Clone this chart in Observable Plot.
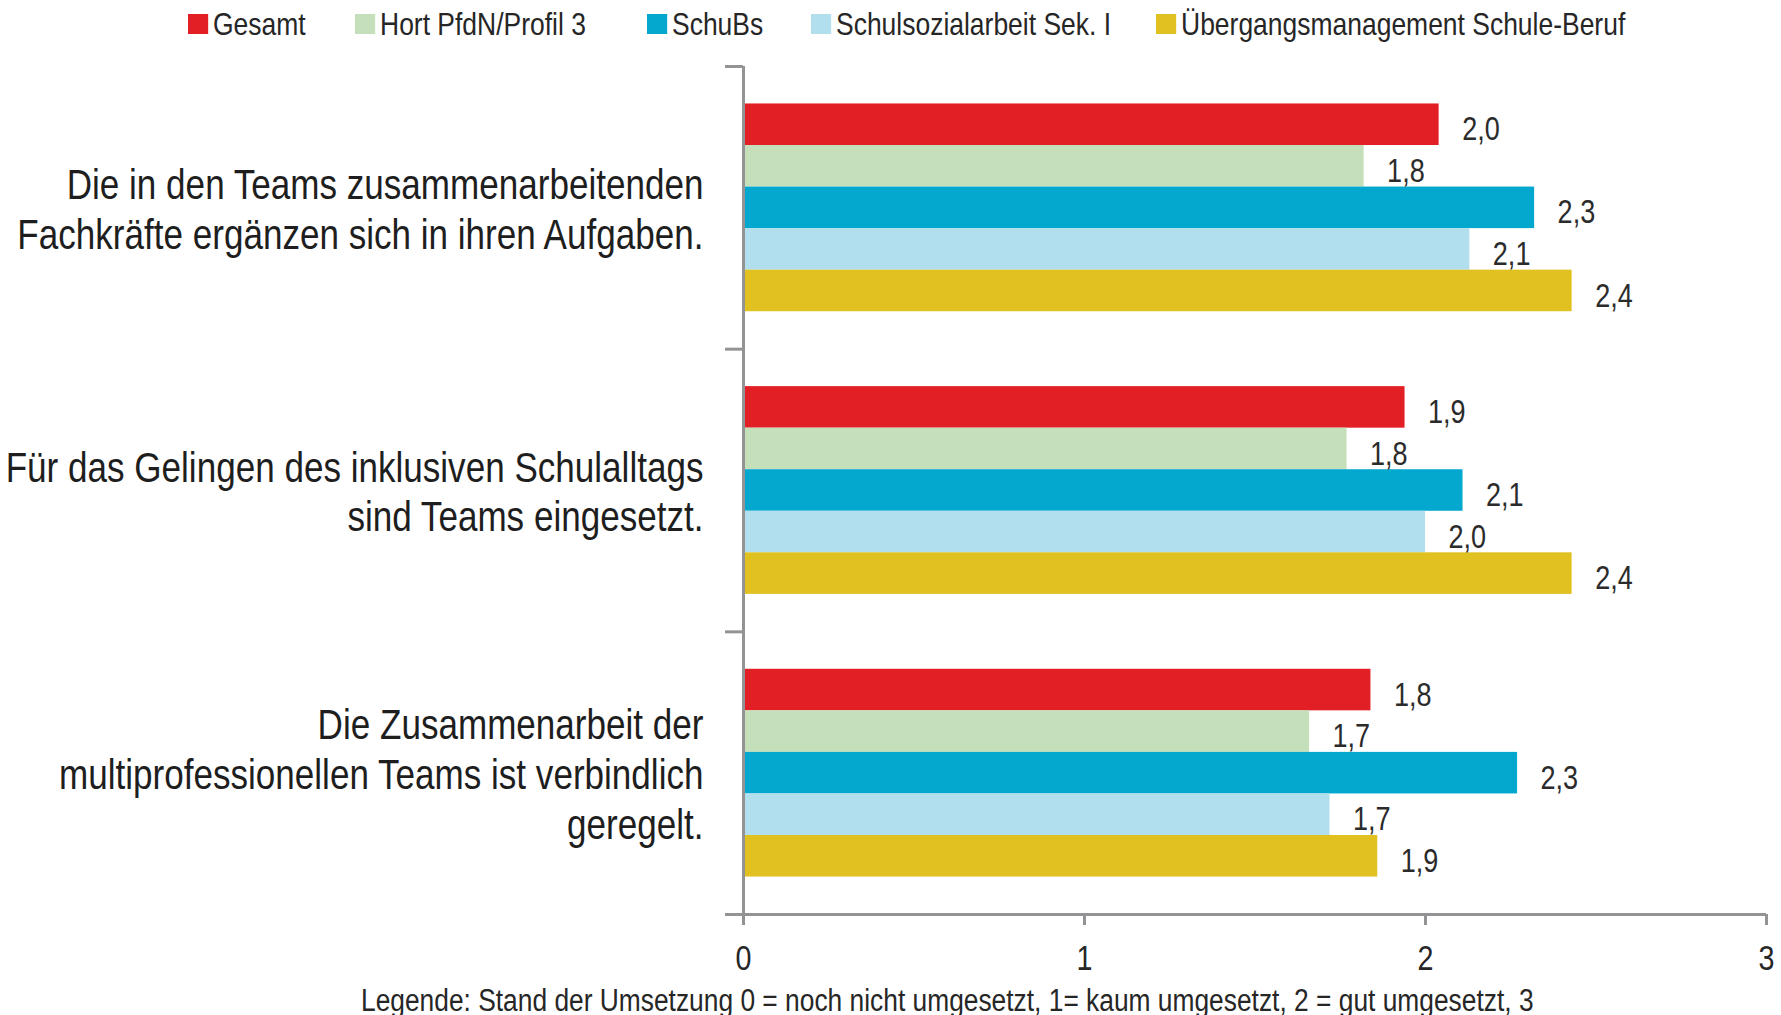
<!DOCTYPE html>
<html>
<head>
<meta charset="utf-8">
<script src="https://cdn.jsdelivr.net/npm/d3@7"></script>
<script src="https://cdn.jsdelivr.net/npm/@observablehq/plot@0.6"></script>
<style>
  html, body { margin: 0; padding: 0; background: #fff; overflow: hidden; }
  body { width: 1781px; height: 1015px; font-family: "Liberation Sans", Arial, sans-serif; position: relative; }
  #legend { height: 48px; position: relative; }
  #legend .item { position: absolute; top: 0; height: 48px; display: flex; align-items: center; font-size: 31.5px; color: #262626; transform: scaleX(0.84); transform-origin: 0 50%; white-space: nowrap; }
  #legend .sw { width: 23.8px; height: 20px; margin-right: 6px; display: inline-block; }
  #caption { height: 37px; position: relative; }
  #caption .inner { position: absolute; left: 361px; top: 4px; line-height: 37px; font-size: 31px; color: #262626; white-space: nowrap; transform: scaleX(0.85); transform-origin: 0 50%; }
  svg { display: block; }
</style>
</head>
<body>
<div id="legend"></div>
<div id="chart"></div>
<div id="caption"><div class="inner"></div></div>
<script>
// ---- Data ----
const questions = [
  "Die in den Teams zusammenarbeitenden\nFachkräfte ergänzen sich in ihren Aufgaben.",
  "Für das Gelingen des inklusiven Schulalltags\nsind Teams eingesetzt.",
  "Die Zusammenarbeit der\nmultiprofessionellen Teams ist verbindlich\ngeregelt."
];
const series = ["Gesamt", "Hort PfdN/Profil 3", "SchuBs", "Schulsozialarbeit Sek. I", "Übergangsmanagement Schule-Beruf"];
const seriesColors = ["#e31f26", "#c5dfbb", "#04a8cf", "#b2dfee", "#e0c11f"];
const gesamt    = [2.04, 1.94, 1.84];
const hort      = [1.82, 1.77, 1.66];
const schubs    = [2.32, 2.11, 2.27];
const schulsoz  = [2.13, 2.00, 1.72];
const uebergang = [2.43, 2.43, 1.86];
const xTicks = [0, 1, 2, 3];
const captionText = "Legende: Stand der Umsetzung 0 = noch nicht umgesetzt, 1= kaum umgesetzt, 2 = gut umgesetzt, 3";

// ---- Build table ----
const seriesValues = [gesamt, hort, schubs, schulsoz, uebergang];
const barH = 0.147;
const pad = (1 - series.length * barH) / 2;
const table = [];
questions.forEach((q, qi) => {
  series.forEach((s, si) => {
    const v = seriesValues[si][qi];
    const y1 = qi + pad + si * barH;
    table.push({question: q, series: s, value: v, y1, y2: y1 + barH, ym: y1 + barH / 2,
      label: v.toFixed(1).replace(".", ",")});
  });
});
const qTable = questions.map((q, qi) => ({q, y: qi + 0.5}));

// ---- Legend (layout: left edge of each legend entry, px) ----
const legendLeft = [188, 355, 647, 811, 1156];
const legend = document.getElementById("legend");
series.forEach((s, i) => {
  const item = document.createElement("div");
  item.className = "item";
  item.style.left = legendLeft[i] + "px";
  const sw = document.createElement("span");
  sw.className = "sw";
  sw.style.background = seriesColors[i];
  item.appendChild(sw);
  item.appendChild(document.createTextNode(s));
  legend.appendChild(item);
});
document.querySelector("#caption .inner").textContent = captionText;

// ---- Chart ----
const axisGray = "#939396";
const chart = Plot.plot({
  width: 1781,
  height: 930,
  marginLeft: 743,
  marginRight: 15,
  marginTop: 18,
  marginBottom: 64,
  style: {fontFamily: "'Liberation Sans', Arial, sans-serif", color: "#262626", background: "#fff"},
  x: {type: "linear", domain: [0, 3]},
  y: {type: "linear", domain: [0, 3], reverse: true},
  color: {domain: series, range: seriesColors},
  marks: [
    Plot.rect(table, {x1: 0, x2: "value", y1: "y1", y2: "y2", fill: "series"}),
    Plot.text(table, {x: "value", y: "ym", text: "label", textAnchor: "start", dx: 23, dy: 5, fontSize: 33, fill: "#2b2b2b"}),
    Plot.text(qTable, {x: 0, y: "y", text: "q", textAnchor: "end", dx: -40, fontSize: 42, lineHeight: 1.19, fill: "#1e1e1e"}),
    Plot.axisY({ticks: [0, 1, 2, 3], tickSize: 18, tickFormat: () => "", label: null, stroke: axisGray, strokeWidth: 3}),
    Plot.axisX({ticks: xTicks, tickSize: 11, tickPadding: 20, fontSize: 35, tickFormat: d => String(d), label: null, stroke: axisGray, strokeWidth: 3, fill: "#262626"}),
    Plot.ruleX([0], {stroke: axisGray, strokeWidth: 3}),
    Plot.ruleY([3], {stroke: axisGray, strokeWidth: 3})
  ]
});
// condensed look of the original typeface: narrow every text around its own anchor
d3.select(chart).selectAll("text").each(function() {
  const t = this.getAttribute("transform");
  if (!t) return;
  const isMultiLine = this.querySelector("tspan") !== null;
  this.setAttribute("transform", t + (isMultiLine ? " scale(0.835,1)" : " scale(0.82,1)"));
});
document.getElementById("chart").appendChild(chart);
</script>
</body>
</html>
